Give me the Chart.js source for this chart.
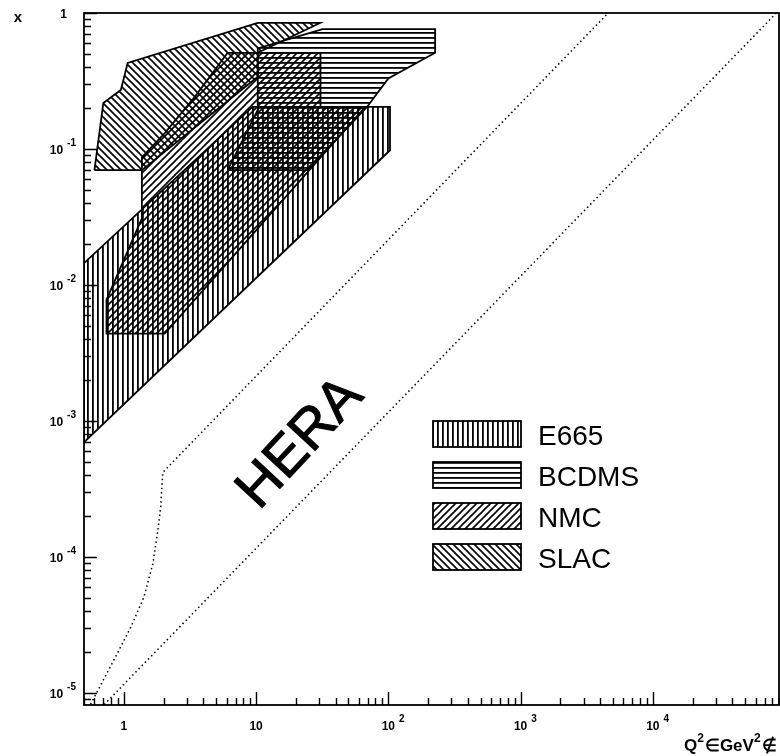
<!DOCTYPE html>
<html>
<head>
<meta charset="utf-8">
<script src="https://cdn.jsdelivr.net/npm/chart.js@4.4.0/dist/chart.umd.min.js"></script>
<style>
  body { margin: 0; background: #fff; }
  canvas { display: block; }
</style>
</head>
<body>
<canvas id="chart" width="780" height="756"></canvas>
<script>
// kinematic regions, Q^2 (GeV^2) and x
const e665Q2 = [0.5, 9.4, 103, 103, 0.5];
const e665X = [0.0145, 0.204, 0.204, 0.098, 0.0007];

const bcdmsQ2 = [6.1, 10.3, 10.3, 31.8, 226, 226, 100, 69, 24.5];
const bcdmsX = [0.07, 0.194, 0.55, 0.76, 0.76, 0.51, 0.33, 0.204, 0.07];

const nmcQ2 = [6.1, 30.7, 30.7, 67, 2.04, 0.74, 0.74, 1.37, 1.37, 2.04, 3.43];
const nmcX = [0.51, 0.51, 0.204, 0.204, 0.0044, 0.0044, 0.0078, 0.031, 0.087, 0.131, 0.241];

const slacQ2 = [0.6, 0.7, 0.95, 1.07, 10.3, 30.5, 10.3, 10.3, 1.37];
const slacX = [0.07, 0.218, 0.272, 0.43, 0.845, 0.845, 0.51, 0.34, 0.07];

// HERA boundaries (dotted)
const heraLowQ2 = [0.56, 0.62, 0.84, 1.13, 1.42, 1.66, 1.81, 1.90, 1.97, 4600];
const heraLowX = [8.3e-6, 1.0e-5, 1.75e-5, 3.06e-5, 5.1e-5, 9.0e-5, 1.58e-4, 2.33e-4, 4.2e-4, 1];
const heraHighQ2 = [0.71, 86000];
const heraHighX = [8.25e-6, 1];

const legendNames = ['E665', 'BCDMS', 'NMC', 'SLAC'];

const xTickValues = [1, 10, 100, 1000, 10000];
const xTickExps = ['', '', '2', '3', '4'];
const yTickValues = [1, 0.1, 0.01, 0.001, 0.0001, 0.00001];
const yTickExps = ['', '-1', '-2', '-3', '-4', '-5'];

const canvas = document.getElementById('chart');
const ctx = canvas.getContext('2d');
const FONT = '"Liberation Sans", Arial, Helvetica, sans-serif';

function hatch(kind) {
  const s = (kind === 'v' || kind === 'h') ? 5 : 7;
  const c = document.createElement('canvas');
  c.width = s; c.height = s;
  const g = c.getContext('2d');
  g.fillStyle = '#000';
  g.strokeStyle = '#000';
  g.lineWidth = 1.6;
  if (kind === 'v') g.fillRect(2, 0, 1.8, s);
  if (kind === 'h') g.fillRect(0, 2, s, 1.8);
  if (kind === '/') {
    g.beginPath();
    g.moveTo(0, s); g.lineTo(s, 0);
    g.moveTo(-1, 1); g.lineTo(1, -1);
    g.moveTo(s - 1, s + 1); g.lineTo(s + 1, s - 1);
    g.stroke();
  }
  if (kind === '\\') {
    g.beginPath();
    g.moveTo(0, 0); g.lineTo(s, s);
    g.moveTo(-1, s - 1); g.lineTo(1, s + 1);
    g.moveTo(s - 1, -1); g.lineTo(s + 1, 1);
    g.stroke();
  }
  return ctx.createPattern(c, 'repeat');
}

const patterns = [hatch('v'), hatch('h'), hatch('/'), hatch('\\')];

function closedPoints(qs, xs) {
  const pts = qs.map((q, i) => ({ x: q, y: xs[i] }));
  pts.push({ x: qs[0], y: xs[0] });
  return pts;
}

function region(label, qs, xs, pat) {
  return {
    label: label,
    data: closedPoints(qs, xs),
    borderColor: '#000',
    borderWidth: 1.8,
    backgroundColor: pat,
    fill: 'shape',
    pointRadius: 0,
    tension: 0
  };
}

function dotted(qs, xs) {
  return {
    data: qs.map((q, i) => ({ x: q, y: xs[i] })),
    borderColor: '#000',
    borderWidth: 1.5,
    borderDash: [1.5, 3],
    fill: false,
    pointRadius: 0,
    tension: 0
  };
}

function drawPow(c, base, exp, x, y, size, align) {
  c.font = 'bold ' + size + 'px ' + FONT;
  const bw = c.measureText(base).width;
  c.font = 'bold ' + (size - 2) + 'px ' + FONT;
  const ew = exp ? c.measureText(exp).width : 0;
  let x0 = x;
  if (align === 'right') x0 = x - bw - (exp ? ew + 4 : 0);
  if (align === 'centerBase') x0 = x - bw / 2;
  c.textAlign = 'left';
  c.textBaseline = 'alphabetic';
  c.font = 'bold ' + size + 'px ' + FONT;
  c.fillText(base, x0, y);
  if (exp) {
    c.font = 'bold ' + (size - 2) + 'px ' + FONT;
    c.fillText(exp, x0 + bw + 4, y - 8);
  }
}

const decor = {
  id: 'decor',
  afterDraw(chart) {
    const c = chart.ctx;
    const a = chart.chartArea;
    const xs = chart.scales.x;
    const ys = chart.scales.y;
    c.save();
    c.strokeStyle = '#000';
    c.fillStyle = '#000';

    // frame
    c.lineWidth = 1.8;
    c.strokeRect(a.left, a.top, a.right - a.left, a.bottom - a.top);

    // ticks
    c.lineWidth = 1.4;
    c.beginPath();
    for (let k = -1; k <= 5; k++) {
      for (let m = 1; m <= 9; m++) {
        const v = m * Math.pow(10, k);
        if (v < xs.min || v > xs.max) continue;
        const px = Math.round(xs.getPixelForValue(v)) + 0.5;
        const len = m === 1 ? 13 : 7;
        c.moveTo(px, a.bottom); c.lineTo(px, a.bottom - len);
      }
    }
    for (let k = -6; k <= 0; k++) {
      for (let m = 1; m <= 9; m++) {
        const v = m * Math.pow(10, k);
        if (v < ys.min || v > ys.max) continue;
        const py = Math.round(ys.getPixelForValue(v)) + 0.5;
        const len = m === 1 ? 13 : 7;
        c.moveTo(a.left, py); c.lineTo(a.left + len, py);
      }
    }
    c.stroke();

    // tick labels
    xTickValues.forEach((v, i) => {
      drawPow(c, v === 1 ? '1' : '10', xTickExps[i], xs.getPixelForValue(v), 730, 12, 'centerBase');
    });
    yTickValues.forEach((v, i) => {
      const py = ys.getPixelForValue(v);
      if (v === 1) {
        drawPow(c, '1', '', 67, py + 5, 12, 'right');
      } else {
        drawPow(c, '10', yTickExps[i], 76, py + 5, 12, 'right');
      }
    });

    // axis titles
    c.font = 'bold 15px ' + FONT;
    c.textAlign = 'center';
    c.fillText('x', 18, 22);
    c.textAlign = 'left';
    let tx = 684;
    const ty = 751;
    const parts = [['Q', 17, 0], ['2', 12, -9], ['\u2208GeV', 17, 0], ['2', 12, -9], ['\u2209', 17, 0]];
    parts.forEach(p => {
      c.font = 'bold ' + p[1] + 'px ' + FONT;
      c.fillText(p[0], tx, ty + p[2]);
      tx += c.measureText(p[0]).width + (p[1] === 12 ? 1 : 0);
    });

    // HERA label
    c.save();
    c.translate(312, 454);
    c.rotate(-47 * Math.PI / 180);
    c.font = '56px ' + FONT;
    c.textAlign = 'center';
    c.textBaseline = 'alphabetic';
    c.lineWidth = 1;
    c.strokeStyle = '#000';
    c.fillText('HERA', 0, 0);
    c.strokeText('HERA', 0, 0);
    c.restore();

    // legend
    const rows = [421, 462, 503, 544];
    legendNames.forEach((name, i) => {
      const y0 = rows[i];
      c.fillStyle = patterns[i];
      c.fillRect(433, y0, 88, 26);
      c.lineWidth = 1.8;
      c.strokeStyle = '#000';
      c.strokeRect(433, y0, 88, 26);
      c.fillStyle = '#000';
      c.font = '28px ' + FONT;
      c.textAlign = 'left';
      c.textBaseline = 'alphabetic';
      c.fillText(name, 538, y0 + 24);
    });
    c.restore();
  }
};

new Chart(ctx, {
  type: 'line',
  data: {
    datasets: [
      region('E665', e665Q2, e665X, patterns[0]),
      region('BCDMS', bcdmsQ2, bcdmsX, patterns[1]),
      region('NMC', nmcQ2, nmcX, patterns[2]),
      region('SLAC', slacQ2, slacX, patterns[3]),
      dotted(heraLowQ2, heraLowX),
      dotted(heraHighQ2, heraHighX)
    ]
  },
  options: {
    responsive: false,
    animation: false,
    layout: { padding: { top: 13, right: 1, left: 0, bottom: 0 } },
    plugins: { legend: { display: false }, tooltip: { enabled: false } },
    scales: {
      x: {
        type: 'logarithmic',
        min: 0.5,
        max: 90000,
        grid: { display: false },
        border: { display: false },
        ticks: { display: false },
        afterFit(scale) { scale.height = 51; }
      },
      y: {
        type: 'logarithmic',
        min: 8.2e-6,
        max: 1,
        grid: { display: false },
        border: { display: false },
        ticks: { display: false },
        afterFit(scale) { scale.width = 84; }
      }
    }
  },
  plugins: [decor]
});
</script>
</body>
</html>
